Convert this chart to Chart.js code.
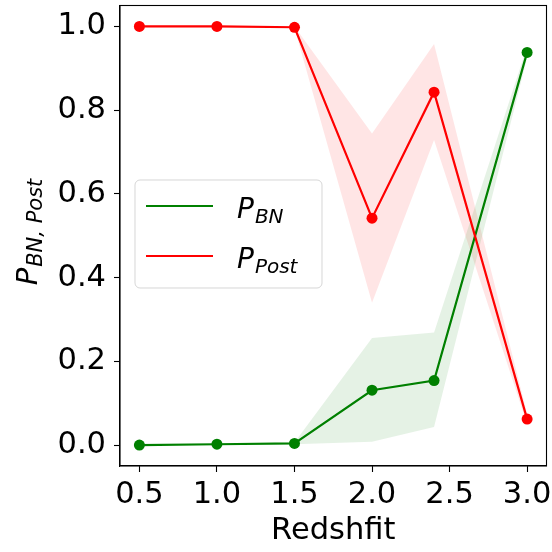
<!DOCTYPE html>
<html>
<head>
<meta charset="utf-8">
<script src="https://cdn.jsdelivr.net/npm/chart.js@4/dist/chart.umd.min.js"></script>
<style>
  html, body { margin: 0; padding: 0; background: #fff; }
  #wrap { width: 552px; height: 552px; }
</style>
</head>
<body>
<div id="wrap"><canvas id="c" width="552" height="552"></canvas></div>
<script>
// Redshift bins
const redshift = [0.5, 1.0, 1.5, 2.0, 2.4, 3.0];

// Probability of the BN population, with its spread
const pBN     = [0.000, 0.002, 0.004, 0.131, 0.154, 0.938];
const pBNLow  = [0.000, 0.000, 0.002, 0.008, 0.043, 0.925];
const pBNHigh = [0.002, 0.004, 0.006, 0.256, 0.269, 0.952];

// Probability of the Post population, with its spread
const pPost     = [1.000, 1.000, 0.998, 0.542, 0.843, 0.062];
const pPostLow  = [0.998, 0.998, 0.996, 0.340, 0.729, 0.050];
const pPostHigh = [1.000, 1.000, 1.000, 0.744, 0.958, 0.075];

// Axis ticks
const xTicks = [0.5, 1.0, 1.5, 2.0, 2.5, 3.0];
const yTicks = [0.0, 0.2, 0.4, 0.6, 0.8, 1.0];

// Legend entries: main symbol and subscript
const legendMain = ['P', 'P'];
const legendSub  = ['BN', 'Post'];

const FONT = "'DejaVu Sans', sans-serif";
const TICK_SIZE = 30.5;
const GREEN = '#008000';
const RED = '#ff0000';
const GREEN_FILL = 'rgba(0,128,0,0.1)';
const RED_FILL = 'rgba(255,0,0,0.1)';

const pts = arr => arr.map((v, i) => ({ x: redshift[i], y: v }));

const bandLine = {
  borderWidth: 0, pointRadius: 0, pointHoverRadius: 0, tension: 0
};

// Frame, rotated y-axis label and the mathtext-style legend
const decor = {
  id: 'decor',
  afterDatasetsDraw(chart) {
    const { ctx, chartArea: a } = chart;
    ctx.save();
    ctx.strokeStyle = '#000';
    ctx.lineWidth = 1.1;
    ctx.strokeRect(a.left, a.top, a.right - a.left, a.bottom - a.top);
    ctx.restore();
  },
  afterDraw(chart) {
    const { ctx } = chart;

    // y-axis label: P_{BN, Post}
    ctx.save();
    ctx.translate(37, 232);
    ctx.rotate(-Math.PI / 2);
    ctx.fillStyle = '#000';
    ctx.textBaseline = 'alphabetic';
    ctx.textAlign = 'left';
    ctx.font = 'italic 29px ' + FONT;
    const wP = ctx.measureText('P').width;
    ctx.font = 'italic 21px ' + FONT;
    const subTxt = 'BN, Post';
    const wS = ctx.measureText(subTxt).width;
    const x0 = -(wP + wS + 1) / 2;
    ctx.font = 'italic 29px ' + FONT;
    ctx.fillText('P', x0, 0);
    ctx.font = 'italic 21px ' + FONT;
    ctx.fillText(subTxt, x0 + wP + 1, 5);
    ctx.restore();

    // legend box
    const bx = 135, by = 180, bw = 187, bh = 108, r = 5;
    ctx.save();
    ctx.beginPath();
    ctx.moveTo(bx + r, by);
    ctx.arcTo(bx + bw, by, bx + bw, by + bh, r);
    ctx.arcTo(bx + bw, by + bh, bx, by + bh, r);
    ctx.arcTo(bx, by + bh, bx, by, r);
    ctx.arcTo(bx, by, bx + bw, by, r);
    ctx.closePath();
    ctx.fillStyle = 'rgba(255,255,255,0.8)';
    ctx.fill();
    ctx.strokeStyle = 'rgba(204,204,204,0.8)';
    ctx.lineWidth = 1;
    ctx.stroke();

    const items = [chart.data.datasets[4], chart.data.datasets[5]];
    const rowY = [206, 256];
    items.forEach((ds, i) => {
      const y = rowY[i];
      ctx.strokeStyle = ds.borderColor;
      ctx.lineWidth = 2.1;
      ctx.beginPath();
      ctx.moveTo(146, y);
      ctx.lineTo(213, y);
      ctx.stroke();
      ctx.fillStyle = '#000';
      ctx.textAlign = 'left';
      ctx.textBaseline = 'alphabetic';
      ctx.font = 'italic 28px ' + FONT;
      ctx.fillText(legendMain[i], 237, y + 12);
      const w = ctx.measureText(legendMain[i]).width;
      ctx.font = 'italic 20px ' + FONT;
      ctx.fillText(legendSub[i], 237 + w + 1, y + 17);
    });
    ctx.restore();
  }
};

new Chart(document.getElementById('c'), {
  type: 'line',
  data: {
    datasets: [
      { label: 'bn-low',    data: pts(pBNLow),    ...bandLine, fill: false, order: 10 },
      { label: 'bn-high',   data: pts(pBNHigh),   ...bandLine, fill: '-1', backgroundColor: GREEN_FILL, order: 10 },
      { label: 'post-low',  data: pts(pPostLow),  ...bandLine, fill: false, order: 10 },
      { label: 'post-high', data: pts(pPostHigh), ...bandLine, fill: '-1', backgroundColor: RED_FILL, order: 10 },
      { label: 'P_BN', data: pts(pBN), borderColor: GREEN, backgroundColor: GREEN,
        pointBackgroundColor: GREEN, pointBorderColor: GREEN,
        borderWidth: 2.2, pointRadius: 5.5, pointBorderWidth: 0, tension: 0, fill: false, order: 2 },
      { label: 'P_Post', data: pts(pPost), borderColor: RED, backgroundColor: RED,
        pointBackgroundColor: RED, pointBorderColor: RED,
        borderWidth: 2.2, pointRadius: 5.5, pointBorderWidth: 0, tension: 0, fill: false, order: 1 }
    ]
  },
  options: {
    responsive: false,
    animation: false,
    devicePixelRatio: 1,
    layout: { padding: { left: 0, right: 4, top: 2, bottom: 0 } },
    plugins: {
      legend: { display: false },
      tooltip: { enabled: false },
      filler: { propagate: false }
    },
    scales: {
      x: {
        type: 'linear',
        min: 0.375, max: 3.125,
        afterBuildTicks: s => { s.ticks = xTicks.map(v => ({ value: v })); },
        afterFit: s => { s.height = 86; s.paddingLeft = 0; s.paddingRight = 0; },
        ticks: {
          color: '#000', font: { family: FONT, size: TICK_SIZE }, padding: 5,
          maxRotation: 0, autoSkip: false,
          callback: v => Number(v).toFixed(1)
        },
        grid: { drawOnChartArea: false, drawTicks: true, tickLength: 6, color: '#000', tickWidth: 1.1 },
        border: { display: true, color: '#000', width: 1.1 },
        title: {
          display: true, text: 'Redshfit', color: '#000',
          font: { family: FONT, size: TICK_SIZE }, padding: { top: 0, bottom: 3 }
        }
      },
      y: {
        type: 'linear',
        min: -0.05, max: 1.05,
        afterBuildTicks: s => { s.ticks = yTicks.map(v => ({ value: v })); },
        afterFit: s => { s.width = 120; s.paddingTop = 0; s.paddingBottom = 0; },
        ticks: {
          color: '#000', font: { family: FONT, size: TICK_SIZE }, padding: 8,
          autoSkip: false,
          callback: v => Number(v).toFixed(1)
        },
        grid: { drawOnChartArea: false, drawTicks: true, tickLength: 6, color: '#000', tickWidth: 1.1 },
        border: { display: true, color: '#000', width: 1.1 }
      }
    }
  },
  plugins: [decor]
});
</script>
</body>
</html>
